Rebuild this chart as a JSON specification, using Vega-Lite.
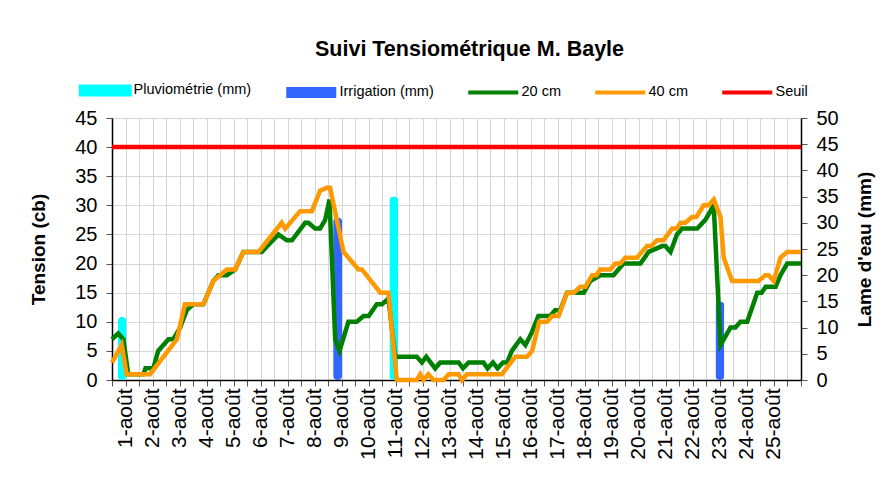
{
  "$schema": "https://vega.github.io/schema/vega-lite/v6.json",
  "width": 689,
  "height": 262,
  "autosize": {"type": "none"},
  "padding": {"left": 112, "top": 118, "right": 81, "bottom": 104},
  "background": "white",
  "config": {"font": "Liberation Sans", "view": {"stroke": null}},
  "title": {"text": "Suivi Tensiométrique M. Bayle", "fontSize": 21.5, "fontWeight": "bold", "color": "black", "anchor": "middle", "frame": "group", "dx": 13, "offset": 6, "baseline": "alphabetic"},
  "datasets": {
    "lines": [
      {"t": 0.5, "v": 7, "s": "20 cm"}, {"t": 0.73, "v": 8, "s": "20 cm"}, {"t": 0.92, "v": 7, "s": "20 cm"}, {"t": 1.1, "v": 1, "s": "20 cm"},
      {"t": 1.66, "v": 1, "s": "20 cm"}, {"t": 1.74, "v": 2, "s": "20 cm"}, {"t": 2.03, "v": 2, "s": "20 cm"}, {"t": 2.21, "v": 5, "s": "20 cm"},
      {"t": 2.59, "v": 7, "s": "20 cm"}, {"t": 2.77, "v": 7, "s": "20 cm"}, {"t": 3.02, "v": 9, "s": "20 cm"}, {"t": 3.27, "v": 12, "s": "20 cm"},
      {"t": 3.51, "v": 13, "s": "20 cm"}, {"t": 3.88, "v": 13, "s": "20 cm"}, {"t": 4.25, "v": 17, "s": "20 cm"}, {"t": 4.44, "v": 18, "s": "20 cm"},
      {"t": 4.75, "v": 18, "s": "20 cm"}, {"t": 5.06, "v": 19, "s": "20 cm"}, {"t": 5.36, "v": 22, "s": "20 cm"}, {"t": 6.04, "v": 22, "s": "20 cm"},
      {"t": 6.66, "v": 25, "s": "20 cm"}, {"t": 6.97, "v": 24, "s": "20 cm"}, {"t": 7.16, "v": 24, "s": "20 cm"}, {"t": 7.65, "v": 27, "s": "20 cm"},
      {"t": 7.77, "v": 27, "s": "20 cm"}, {"t": 8.02, "v": 26, "s": "20 cm"}, {"t": 8.2, "v": 26, "s": "20 cm"}, {"t": 8.39, "v": 27.5, "s": "20 cm"},
      {"t": 8.55, "v": 31, "s": "20 cm"}, {"t": 8.76, "v": 7, "s": "20 cm"}, {"t": 8.92, "v": 5, "s": "20 cm"}, {"t": 9.25, "v": 10, "s": "20 cm"},
      {"t": 9.56, "v": 10, "s": "20 cm"}, {"t": 9.81, "v": 11, "s": "20 cm"}, {"t": 10.0, "v": 11, "s": "20 cm"}, {"t": 10.3, "v": 13, "s": "20 cm"},
      {"t": 10.49, "v": 13, "s": "20 cm"}, {"t": 10.73, "v": 14, "s": "20 cm"}, {"t": 10.98, "v": 4, "s": "20 cm"}, {"t": 11.78, "v": 4, "s": "20 cm"},
      {"t": 11.97, "v": 3, "s": "20 cm"}, {"t": 12.13, "v": 4, "s": "20 cm"}, {"t": 12.46, "v": 2, "s": "20 cm"}, {"t": 12.65, "v": 3, "s": "20 cm"},
      {"t": 13.33, "v": 3, "s": "20 cm"}, {"t": 13.49, "v": 2, "s": "20 cm"}, {"t": 13.7, "v": 3, "s": "20 cm"}, {"t": 14.25, "v": 3, "s": "20 cm"},
      {"t": 14.4, "v": 2, "s": "20 cm"}, {"t": 14.6, "v": 3, "s": "20 cm"}, {"t": 14.77, "v": 2, "s": "20 cm"}, {"t": 14.97, "v": 3, "s": "20 cm"},
      {"t": 15.12, "v": 3, "s": "20 cm"}, {"t": 15.3, "v": 5, "s": "20 cm"}, {"t": 15.61, "v": 7, "s": "20 cm"}, {"t": 15.8, "v": 6, "s": "20 cm"},
      {"t": 16.02, "v": 8, "s": "20 cm"}, {"t": 16.28, "v": 11, "s": "20 cm"}, {"t": 16.72, "v": 11, "s": "20 cm"}, {"t": 16.9, "v": 12, "s": "20 cm"},
      {"t": 17.09, "v": 12, "s": "20 cm"}, {"t": 17.34, "v": 15, "s": "20 cm"}, {"t": 17.96, "v": 15, "s": "20 cm"}, {"t": 18.2, "v": 17, "s": "20 cm"},
      {"t": 18.57, "v": 18, "s": "20 cm"}, {"t": 19.06, "v": 18, "s": "20 cm"}, {"t": 19.43, "v": 20, "s": "20 cm"}, {"t": 20.06, "v": 20, "s": "20 cm"},
      {"t": 20.36, "v": 22, "s": "20 cm"}, {"t": 20.86, "v": 23, "s": "20 cm"}, {"t": 20.98, "v": 23, "s": "20 cm"}, {"t": 21.17, "v": 22, "s": "20 cm"},
      {"t": 21.41, "v": 25, "s": "20 cm"}, {"t": 21.6, "v": 26, "s": "20 cm"}, {"t": 22.16, "v": 26, "s": "20 cm"}, {"t": 22.46, "v": 27.5, "s": "20 cm"},
      {"t": 22.77, "v": 30, "s": "20 cm"}, {"t": 23.02, "v": 6, "s": "20 cm"}, {"t": 23.39, "v": 9, "s": "20 cm"}, {"t": 23.57, "v": 9, "s": "20 cm"},
      {"t": 23.76, "v": 10, "s": "20 cm"}, {"t": 24.01, "v": 10, "s": "20 cm"}, {"t": 24.38, "v": 15, "s": "20 cm"}, {"t": 24.54, "v": 15, "s": "20 cm"},
      {"t": 24.69, "v": 16, "s": "20 cm"}, {"t": 25.06, "v": 16, "s": "20 cm"}, {"t": 25.24, "v": 18, "s": "20 cm"}, {"t": 25.49, "v": 20, "s": "20 cm"},
      {"t": 26.0, "v": 20, "s": "20 cm"},
      {"t": 0.5, "v": 3, "s": "40 cm"}, {"t": 0.86, "v": 6, "s": "40 cm"}, {"t": 1.04, "v": 1, "s": "40 cm"}, {"t": 1.91, "v": 1, "s": "40 cm"},
      {"t": 2.9, "v": 7, "s": "40 cm"}, {"t": 3.2, "v": 13, "s": "40 cm"}, {"t": 3.88, "v": 13, "s": "40 cm"}, {"t": 4.25, "v": 17, "s": "40 cm"},
      {"t": 4.5, "v": 18, "s": "40 cm"}, {"t": 4.75, "v": 19, "s": "40 cm"}, {"t": 5.06, "v": 19, "s": "40 cm"}, {"t": 5.36, "v": 22, "s": "40 cm"},
      {"t": 5.92, "v": 22, "s": "40 cm"}, {"t": 6.78, "v": 27, "s": "40 cm"}, {"t": 6.91, "v": 26, "s": "40 cm"}, {"t": 7.46, "v": 29, "s": "40 cm"},
      {"t": 7.9, "v": 29, "s": "40 cm"}, {"t": 8.2, "v": 32.5, "s": "40 cm"}, {"t": 8.45, "v": 33, "s": "40 cm"}, {"t": 8.57, "v": 33, "s": "40 cm"},
      {"t": 9.07, "v": 22, "s": "40 cm"}, {"t": 9.62, "v": 19, "s": "40 cm"}, {"t": 9.75, "v": 19, "s": "40 cm"}, {"t": 10.43, "v": 15, "s": "40 cm"},
      {"t": 10.73, "v": 15, "s": "40 cm"}, {"t": 11.04, "v": 0, "s": "40 cm"}, {"t": 11.78, "v": 0, "s": "40 cm"}, {"t": 11.91, "v": 1, "s": "40 cm"},
      {"t": 12.03, "v": 0, "s": "40 cm"}, {"t": 12.21, "v": 1, "s": "40 cm"}, {"t": 12.4, "v": 0, "s": "40 cm"}, {"t": 12.77, "v": 0, "s": "40 cm"},
      {"t": 12.96, "v": 1, "s": "40 cm"}, {"t": 13.33, "v": 1, "s": "40 cm"}, {"t": 13.45, "v": 0, "s": "40 cm"}, {"t": 13.64, "v": 1, "s": "40 cm"},
      {"t": 14.93, "v": 1, "s": "40 cm"}, {"t": 15.43, "v": 4, "s": "40 cm"}, {"t": 15.86, "v": 4, "s": "40 cm"}, {"t": 16.05, "v": 5, "s": "40 cm"},
      {"t": 16.31, "v": 10, "s": "40 cm"}, {"t": 16.6, "v": 10, "s": "40 cm"}, {"t": 16.79, "v": 11, "s": "40 cm"}, {"t": 17.03, "v": 11, "s": "40 cm"},
      {"t": 17.34, "v": 15, "s": "40 cm"}, {"t": 17.59, "v": 15, "s": "40 cm"}, {"t": 17.83, "v": 16, "s": "40 cm"}, {"t": 18.02, "v": 16, "s": "40 cm"},
      {"t": 18.27, "v": 18, "s": "40 cm"}, {"t": 18.43, "v": 18, "s": "40 cm"}, {"t": 18.57, "v": 19, "s": "40 cm"}, {"t": 18.94, "v": 19, "s": "40 cm"},
      {"t": 19.13, "v": 20, "s": "40 cm"}, {"t": 19.31, "v": 20, "s": "40 cm"}, {"t": 19.5, "v": 21, "s": "40 cm"}, {"t": 19.93, "v": 21, "s": "40 cm"},
      {"t": 20.3, "v": 23, "s": "40 cm"}, {"t": 20.46, "v": 23, "s": "40 cm"}, {"t": 20.67, "v": 24, "s": "40 cm"}, {"t": 20.91, "v": 24, "s": "40 cm"},
      {"t": 21.23, "v": 26, "s": "40 cm"}, {"t": 21.4, "v": 26, "s": "40 cm"}, {"t": 21.54, "v": 27, "s": "40 cm"}, {"t": 21.72, "v": 27, "s": "40 cm"},
      {"t": 21.97, "v": 28, "s": "40 cm"}, {"t": 22.13, "v": 28, "s": "40 cm"}, {"t": 22.4, "v": 30, "s": "40 cm"}, {"t": 22.58, "v": 30, "s": "40 cm"},
      {"t": 22.77, "v": 31, "s": "40 cm"}, {"t": 23.02, "v": 28, "s": "40 cm"}, {"t": 23.14, "v": 21, "s": "40 cm"}, {"t": 23.45, "v": 17, "s": "40 cm"},
      {"t": 24.43, "v": 17, "s": "40 cm"}, {"t": 24.68, "v": 18, "s": "40 cm"}, {"t": 24.8, "v": 18, "s": "40 cm"}, {"t": 24.99, "v": 17, "s": "40 cm"},
      {"t": 25.24, "v": 21, "s": "40 cm"}, {"t": 25.49, "v": 22, "s": "40 cm"}, {"t": 26.0, "v": 22, "s": "40 cm"},
      {"t": 0.5, "v": 40, "s": "Seuil"}, {"t": 26.0, "v": 40, "s": "Seuil"}
    ],
    "bars": [
      {"t": 0.877, "mm": 12, "s": "Pluviométrie (mm)"},
      {"t": 10.93, "mm": 35, "s": "Pluviométrie (mm)"},
      {"t": 8.85, "mm": 31, "s": "Irrigation (mm)"},
      {"t": 23.0, "mm": 15, "s": "Irrigation (mm)"}
    ]
  },
  "encoding": {
    "x": {"field": "t", "type": "quantitative", "scale": {"domain": [0.5, 26], "nice": false, "zero": false, "padding": 0},
      "axis": {"values": [0.5,1,1.5,2,2.5,3,3.5,4,4.5,5,5.5,6,6.5,7,7.5,8,8.5,9,9.5,10,10.5,11,11.5,12,12.5,13,13.5,14,14.5,15,15.5,16,16.5,17,17.5,18,18.5,19,19.5,20,20.5,21,21.5,22,22.5,23,23.5,24,24.5,25,25.5,26],
        "labelExpr": "(datum.value % 1 == 0 && datum.value <= 25) ? (datum.value + '-août') : ''",
        "labelAngle": -90, "labelFontSize": 21, "labelColor": "black", "labelPadding": 2, "labelOverlap": false, "labelBound": false, "labelFlush": false,
        "tickSize": 6, "tickColor": "#555555", "domainColor": "black", "domainWidth": 1.5, "grid": true, "gridColor": "#d6d6d6", "title": null}}
  },
  "layer": [
    {
      "data": {"name": "bars"},
      "mark": {"type": "bar", "width": 9, "cornerRadius": 4},
      "encoding": {
        "y": {"field": "mm", "type": "quantitative", "scale": {"domain": [0, 50], "nice": false},
          "axis": {"orient": "right", "values": [0,5,10,15,20,25,30,35,40,45,50], "grid": false, "labelFontSize": 20, "labelColor": "black", "labelPadding": 9,
            "tickSize": 6, "tickColor": "#555555", "domainColor": "black", "domainWidth": 1.5,
            "title": "Lame d'eau (mm)", "titleFontSize": 19, "titleFontWeight": "bold", "titleColor": "black", "titleAngle": 270, "titlePadding": 36}},
        "color": {"field": "s", "type": "nominal",
          "scale": {"domain": ["Pluviométrie (mm)", "Irrigation (mm)", "20 cm", "40 cm", "Seuil"], "range": ["#00ffff", "#3366ff", "#008000", "#ff9900", "#ff0000"]},
          "legend": {"orient": "none", "legendX": -14, "legendY": -35, "direction": "horizontal", "columns": 5, "title": null,
            "symbolSize": 2500, "columnPadding": 34, "labelOffset": 21, "labelFontSize": 14.5, "labelColor": "black",
            "encode": {"symbols": {"update": {
              "shape": {"signal": "datum.value === 'Pluviométrie (mm)' ? 'M-1,-0.18H1V0.18H-1Z' : datum.value === 'Irrigation (mm)' ? 'M-1,-0.22H1V0.22H-1Z' : 'M-1,-0.08H1V0.08H-1Z'"},
              "fill": {"signal": "datum.value === 'Pluviométrie (mm)' ? '#ccffff' : datum.value === 'Irrigation (mm)' ? '#3366ff' : datum.value === '20 cm' ? '#008000' : datum.value === '40 cm' ? '#ff9900' : '#ff0000'"},
              "stroke": {"signal": "datum.value === 'Pluviométrie (mm)' ? '#00ffff' : 'transparent'"},
              "strokeWidth": {"signal": "datum.value === 'Pluviométrie (mm)' ? 3 : 0"},
              "opacity": {"value": 1}, "fillOpacity": {"value": 1}, "strokeOpacity": {"value": 1}
            }}}}
        }
      }
    },
    {
      "data": {"name": "lines"},
      "mark": {"type": "line", "strokeWidth": 4.5},
      "encoding": {
        "y": {"field": "v", "type": "quantitative", "scale": {"domain": [0, 45], "nice": false},
          "axis": {"orient": "left", "values": [0,5,10,15,20,25,30,35,40,45], "grid": true, "gridColor": "#d6d6d6", "labelFontSize": 20, "labelColor": "black", "labelPadding": 9,
            "tickSize": 6, "tickColor": "#555555", "domainColor": "black", "domainWidth": 1.5,
            "title": "Tension (cb)", "titleFontSize": 19, "titleFontWeight": "bold", "titleColor": "black", "titlePadding": 26}},
        "color": {"field": "s", "type": "nominal"}
      }
    }
  ],
  "resolve": {"scale": {"y": "independent"}}
}
